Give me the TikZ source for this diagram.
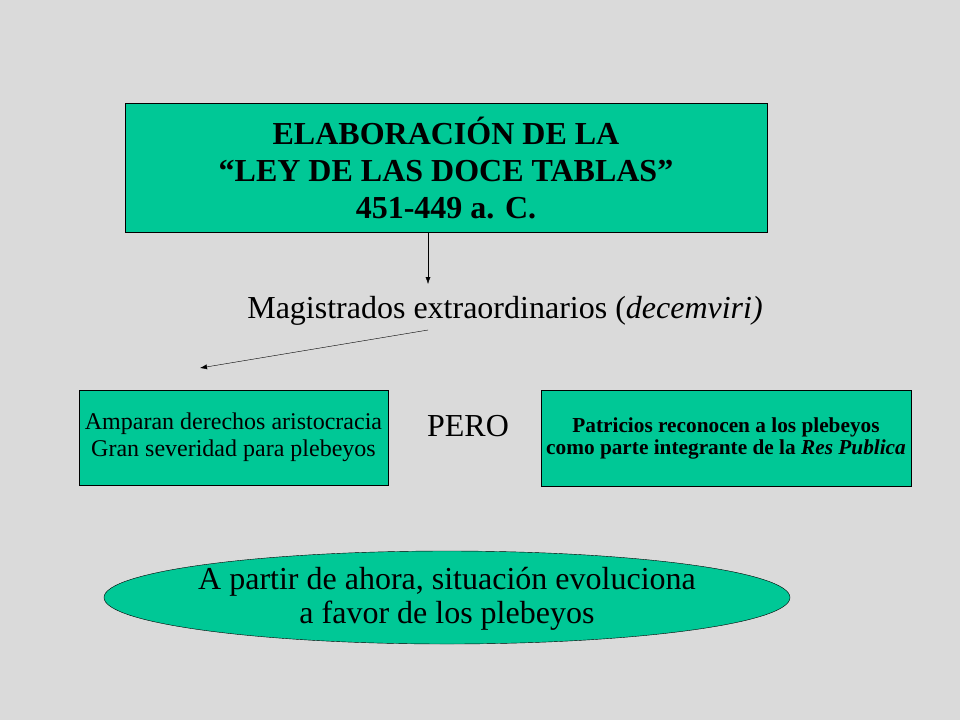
\documentclass[tikz,border=0pt]{standalone}
\usepackage{fontspec}
\setmainfont{Liberation Serif}
\usetikzlibrary{shapes.geometric, arrows.meta}
\definecolor{verde}{RGB}{0,200,150}
\definecolor{marmol}{RGB}{218,218,218}
\tikzset{
	caja/.style = {draw = black, fill = verde, align = center, inner sep = 0pt},
	flecha/.style = {-{Latex[length = 7pt, width = 5pt]}, thin}
}
\begin{document}
\begin{tikzpicture}[x = 1pt, y = -1pt]
		%%%%%%%%%%%%%
		\fill[marmol] (0, 0) rectangle (960, 720);
		\useasboundingbox (0, 0) rectangle (960, 720);
		%%%%%%%%%%%%%
		\node[caja, minimum width = 642pt, minimum height = 129pt, font = \fontsize{32}{37}\selectfont\bfseries] (ley) at (446, 167.5) {ELABORACIÓN DE LA\\ “LEY DE LAS DOCE TABLAS”\\ 451-449 a. C.};
		\node[font = \fontsize{32}{36}\selectfont] (magis) at (505, 311) {Magistrados extraordinarios (\textit{decemviri)}};
		\node[caja, minimum width = 309pt, minimum height = 95pt, font = \fontsize{24}{27}\selectfont] (ampa) at (233.5, 437.5) {Amparan derechos aristocracia\\ Gran severidad para plebeyos};
		\node[font = \fontsize{32}{36}\selectfont] (pero) at (468, 426) {PERO};
		\node[caja, minimum width = 370pt, minimum height = 96pt, font = \fontsize{21.3}{22}\selectfont\bfseries] (patri) at (726, 438) {Patricios reconocen a los plebeyos\\ como parte integrante de la \textit{Res Publica}};
		\node[caja, ellipse, minimum width = 686pt, minimum height = 93pt] (evol) at (447, 597.5) {};
		\node[align = center, font = \fontsize{32}{34}\selectfont] (evoltxt) at ([yshift = -1pt] evol.center) {A partir de ahora, situación evoluciona\\ a favor de los plebeyos};
		%%%%%%%%%%%%%
		\coordinate (c1) at (428, 284);
		\coordinate (c2) at (428, 330);
		\coordinate (c3) at (200, 368);
		\draw[flecha] (ley.south -| c1) to (c1);
		\draw[flecha] (c2) to (c3);
		%%%%%%%%%%%%%
	\end{tikzpicture}
\end{document}
